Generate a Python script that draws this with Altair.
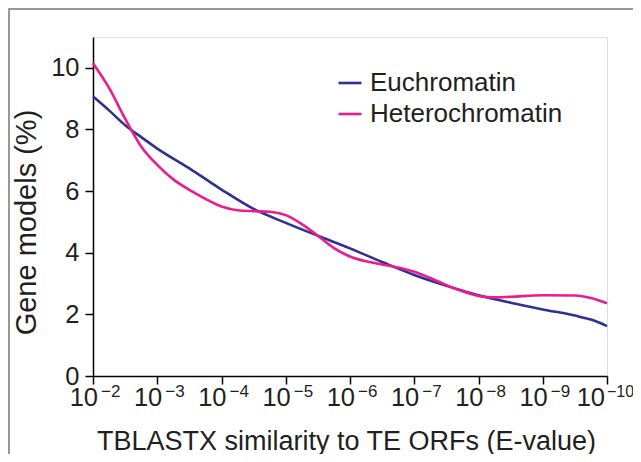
import altair as alt
import pandas as pd

# x = -log10(E-value)
eu_exp = [2.0, 2.25, 2.5, 2.75, 3.0, 3.5, 4.0, 4.5, 5.0, 5.5, 6.0, 6.5, 7.0, 7.5, 8.0, 8.5, 9.0, 9.5, 9.75, 10.0]
eu_val = [9.07, 8.62, 8.14, 7.75, 7.38, 6.74, 6.05, 5.42, 4.97, 4.55, 4.14, 3.70, 3.28, 2.93, 2.62, 2.38, 2.16, 1.96, 1.83, 1.62]

het_exp = [2.0, 2.25, 2.5, 2.75, 3.0, 3.25, 3.5, 3.75, 4.0, 4.25, 4.5, 4.75, 5.0, 5.25, 5.5, 5.75, 6.0, 6.25,
           6.5, 6.75, 7.0, 7.25, 7.5, 7.75, 8.0, 8.25, 8.5, 9.0, 9.5, 9.75, 10.0]
het_val = [10.15, 9.35, 8.35, 7.45, 6.85, 6.38, 6.04, 5.75, 5.50, 5.38, 5.35, 5.33, 5.22, 4.93, 4.55, 4.15, 3.88, 3.72,
           3.62, 3.52, 3.38, 3.18, 2.95, 2.75, 2.60, 2.55, 2.57, 2.62, 2.61, 2.53, 2.36]

series = ["Euchromatin", "Heterochromatin"]
colors = ["#2E3192", "#EC1C8C"]

tick_exps = [2, 3, 4, 5, 6, 7, 8, 9, 10]
y_ticks = [0, 2, 4, 6, 8, 10]

W, H = 514, 339
TXT = "#231F20"
FONT = "Liberation Sans"

df = pd.concat([
    pd.DataFrame({"exp": eu_exp, "value": eu_val, "series": series[0]}),
    pd.DataFrame({"exp": het_exp, "value": het_val, "series": series[1]}),
])
ticks = pd.DataFrame({"exp": tick_exps, "base": ["10"] * len(tick_exps),
                      "sup": ["\u2212" + str(e) for e in tick_exps]})

xscale = alt.Scale(domain=[2, 10], nice=False, zero=False)

lines = alt.Chart(df).mark_line(interpolate="monotone", strokeWidth=2.6).encode(
    x=alt.X("exp:Q", scale=xscale,
            axis=alt.Axis(values=tick_exps, labels=False, tickSize=8, tickWidth=1.5, tickColor="black",
                          domainColor="black", domainWidth=1.5, grid=False,
                          title="TBLASTX similarity to TE ORFs (E-value)", titleFontSize=27,
                          titleFontWeight="normal", titleColor=TXT, titleFont=FONT,
                          titleBaseline="alphabetic", titleY=73, titleX=253)),
    y=alt.Y("value:Q", scale=alt.Scale(domain=[0, 11], nice=False),
            axis=alt.Axis(values=y_ticks, tickSize=8, tickWidth=1.5, tickColor="black",
                          domainColor="black", domainWidth=1.5, grid=False,
                          labelFontSize=25.5, labelColor=TXT, labelFont=FONT, labelPadding=6,
                          title="Gene models (%)", titleFontSize=29, titleFontWeight="normal",
                          titleColor=TXT, titleFont=FONT, titlePadding=9, titleY=185)),
    color=alt.Color("series:N", scale=alt.Scale(domain=series, range=colors),
                    legend=alt.Legend(title=None, orient="none", legendX=244, legendY=33,
                                      symbolType="stroke", symbolSize=529, symbolStrokeWidth=2.6,
                                      labelFontSize=26, labelFont=FONT, labelColor=TXT, labelLimit=0,
                                      labelOffset=7, rowPadding=5, padding=0)),
)

tick_base = alt.Chart(ticks)
base_lbl = tick_base.transform_filter("datum.exp < 10").mark_text(
    align="right", baseline="alphabetic", fontSize=25.5, font=FONT, color=TXT, dx=5).encode(
    x=alt.X("exp:Q", scale=xscale), y=alt.value(H + 30), text="base:N")
sup_lbl = tick_base.transform_filter("datum.exp < 10").mark_text(
    align="left", baseline="alphabetic", fontSize=17, font=FONT, color=TXT, dx=8).encode(
    x=alt.X("exp:Q", scale=xscale), y=alt.value(H + 21), text="sup:N")
base_last = tick_base.transform_filter("datum.exp >= 10").mark_text(
    align="right", baseline="alphabetic", fontSize=25.5, font=FONT, color=TXT, dx=-2).encode(
    x=alt.X("exp:Q", scale=xscale), y=alt.value(H + 30), text="base:N")
sup_last = tick_base.transform_filter("datum.exp >= 10").mark_text(
    align="left", baseline="alphabetic", fontSize=16, font=FONT, color=TXT, dx=0).encode(
    x=alt.X("exp:Q", scale=xscale), y=alt.value(H + 21), text="sup:N")

frame = alt.Chart(pd.DataFrame({"k": [0]})).mark_rect(fill=None, fillOpacity=0, stroke="#777777",
                                                      strokeWidth=1.5).encode(
    x=alt.value(-84), x2=alt.value(W + 60), y=alt.value(-28), y2=alt.value(H + 150))

chart = alt.layer(frame, lines, base_lbl, sup_lbl, base_last, sup_last).properties(
    width=W, height=H,
    autosize=alt.AutoSizeParams(type="none"),
    padding={"left": 85, "top": 29, "right": 26, "bottom": 78},
).configure_view(stroke="black", strokeWidth=1.5).configure(background="white")

chart.save("out.html", embed_options={"renderer": "svg", "actions": False})
